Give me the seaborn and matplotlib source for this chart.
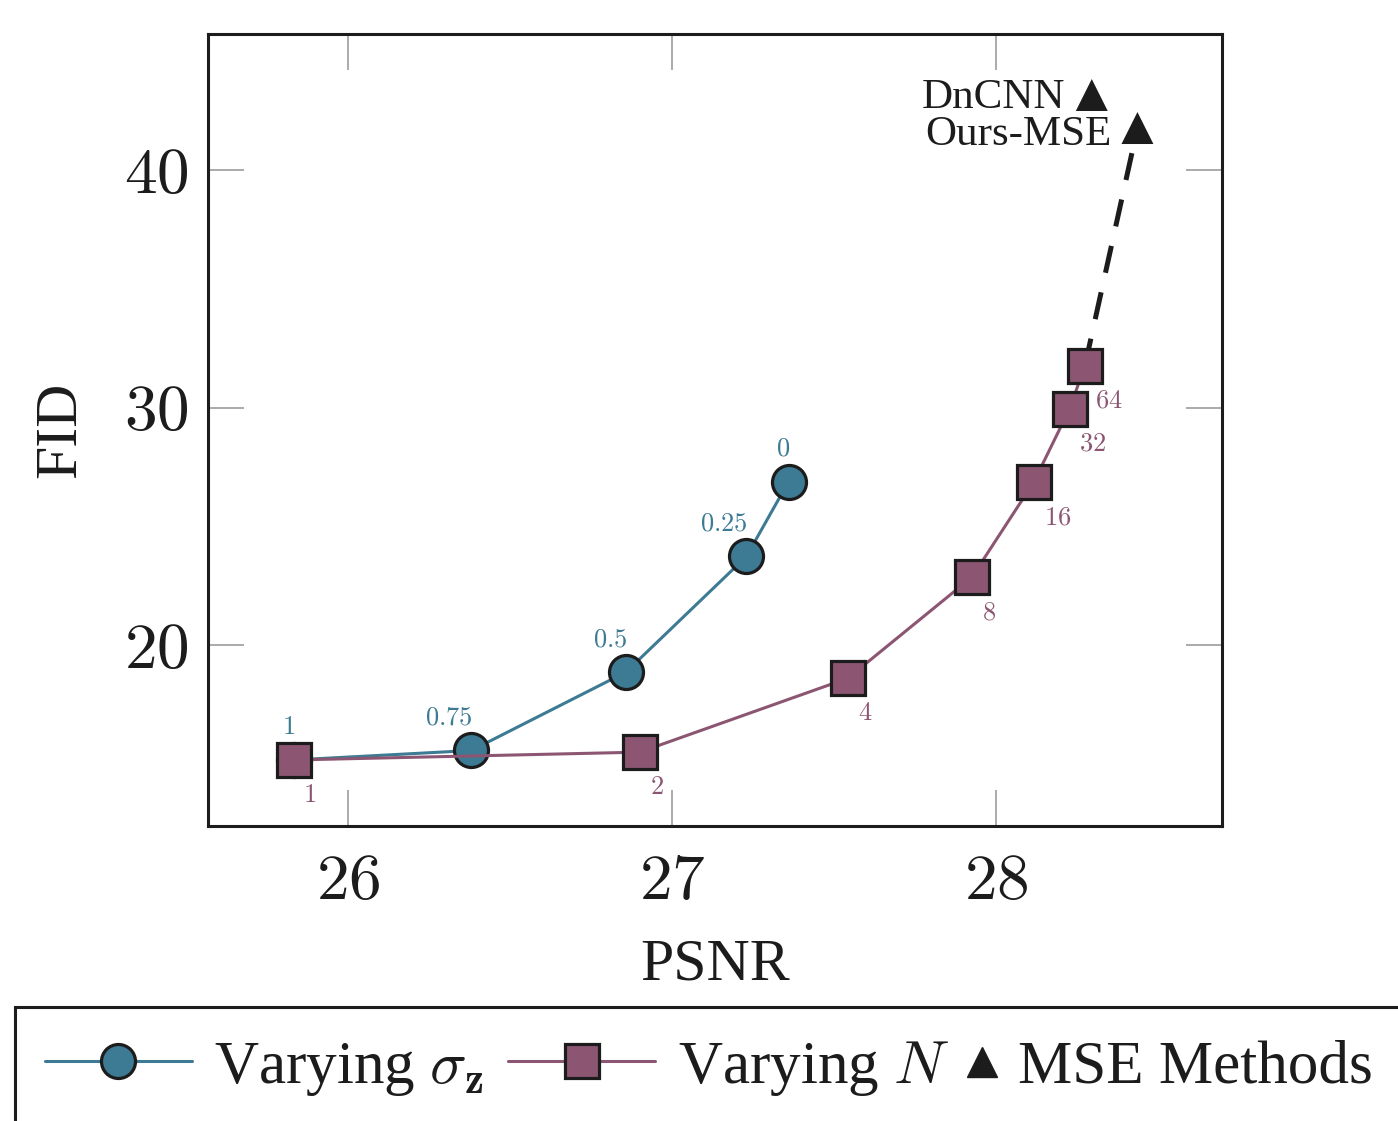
import matplotlib
matplotlib.use("Agg")
import matplotlib.pyplot as plt
import seaborn as sns
import pandas as pd
from matplotlib.lines import Line2D
from matplotlib.patches import Rectangle

# -------------------------------
# Data
# -------------------------------
sigma_psnr = [25.832, 26.381, 26.858, 27.230, 27.360]
sigma_fid = [15.16, 15.56, 18.86, 23.73, 26.88]
sigma_labels = ["1", "0.75", "0.5", "0.25", "0"]

n_psnr = [25.832, 26.901, 27.543, 27.926, 28.117, 28.228, 28.275]
n_fid = [15.16, 15.49, 18.60, 22.86, 26.86, 29.96, 31.77]
n_labels = ["1", "2", "4", "8", "16", "32", "64"]

mse_names = ["DnCNN", "Ours-MSE"]
mse_psnr = [28.296, 28.437]
mse_fid = [43.16, 41.77]

x_ticks = [26, 27, 28]
y_ticks = [20, 30, 40]

legend_labels = [r"Varying $\sigma_{\mathbf{z}}$", r"Varying $N$", "MSE Methods"]

BLUE = "#3d7a93"
PURPLE = "#8c5672"
DARK = "#1c1c1c"

sigma_df = pd.DataFrame({"psnr": sigma_psnr, "fid": sigma_fid})
n_df = pd.DataFrame({"psnr": n_psnr, "fid": n_fid})
mse_df = pd.DataFrame({"psnr": mse_psnr, "fid": mse_fid, "name": mse_names})

# -------------------------------
# Style
# -------------------------------
sns.set_theme(style="white")
plt.rcParams["font.family"] = ["Liberation Serif", "DejaVu Serif"]
plt.rcParams["mathtext.fontset"] = "cm"

W, H = 1398, 1121
fig = plt.figure(figsize=(W / 100, H / 100), dpi=100)
ax = fig.add_axes([208 / W, 1 - 826 / H, (1222 - 208) / W, (826 - 34) / H])

# -------------------------------
# Curves
# -------------------------------
sns.lineplot(data=sigma_df, x="psnr", y="fid", sort=False, estimator=None,
             color=BLUE, linewidth=2.2, marker="o", markersize=24.5,
             markerfacecolor=BLUE, markeredgecolor=DARK, markeredgewidth=2.3,
             ax=ax, zorder=3)
sns.lineplot(data=n_df, x="psnr", y="fid", sort=False, estimator=None,
             color=PURPLE, linewidth=2.2, marker="s", markersize=24.5,
             markerfacecolor=PURPLE, markeredgecolor=DARK, markeredgewidth=2.3,
             ax=ax, zorder=3)

# dashed link from N=64 to Ours-MSE
ax.plot([n_psnr[-1], mse_psnr[1]], [n_fid[-1], mse_fid[1]],
        color=DARK, linewidth=3.6, linestyle=(0, (5.5, 4)), zorder=2)

sns.scatterplot(data=mse_df, x="psnr", y="fid", marker="^", s=23 ** 2,
                color=DARK, edgecolor="none", ax=ax, zorder=4, legend=False)

# -------------------------------
# Point labels
# -------------------------------
for x, y, lab in zip(sigma_psnr, sigma_fid, sigma_labels):
    ax.annotate(f"${lab}$", (x, y), xytext=(1, 15), textcoords="offset points",
                ha="right", va="bottom", fontsize=19, color=BLUE)

for x, y, lab in zip(n_psnr, n_fid, n_labels):
    ax.annotate(f"${lab}$", (x, y), xytext=(7, -18), textcoords="offset points",
                ha="left", va="top", fontsize=19, color=PURPLE)

for x, y, name, dy in zip(mse_psnr, mse_fid, mse_names, [-2, -5]):
    ax.annotate(name, (x, y), xytext=(-19, dy), textcoords="offset points",
                ha="right", va="center", fontsize=31, color=DARK)

# -------------------------------
# Axes
# -------------------------------
ax.set_xlim(25.568, 28.698)
ax.set_ylim(12.38, 45.73)
ax.set_xticks(x_ticks, labels=[f"${t}$" for t in x_ticks])
ax.set_yticks(y_ticks, labels=[f"${t}$" for t in y_ticks])
ax.tick_params(direction="in", length=26, width=1.4, color="#aaaaaa",
               top=True, right=True, bottom=True, left=True,
               labelsize=47, labelcolor=DARK)
ax.tick_params(axis="x", pad=20)
ax.tick_params(axis="y", pad=14)
ax.set_xlabel("PSNR", fontsize=43, color=DARK, labelpad=18)
ax.set_ylabel("FID", fontsize=43, color=DARK, labelpad=26)
for s in ax.spines.values():
    s.set_linewidth(2.2)
    s.set_color(DARK)

# -------------------------------
# Legend (clipped box below the axes)
# -------------------------------
fig.add_artist(Rectangle((15 / W, -0.5), 2, (1 - 1007 / H) + 0.5,
                         transform=fig.transFigure, fill=False,
                         edgecolor=DARK, linewidth=2.2))

line_handles = [
    Line2D([], [], color=BLUE, lw=2.2, marker="o", ms=24.5, mfc=BLUE,
           mec=DARK, mew=2.3),
    Line2D([], [], color=PURPLE, lw=2.2, marker="s", ms=24.5, mfc=PURPLE,
           mec=DARK, mew=2.3),
]
leg1 = fig.legend(line_handles, legend_labels[:2], loc="center left",
                  bbox_to_anchor=(45 / W, 1 - 1068 / H), frameon=False,
                  borderpad=0, borderaxespad=0, ncol=2, fontsize=44,
                  handlelength=2.4, handletextpad=0.37, columnspacing=0.4)
tri_handle = [Line2D([], [], ls="none", marker="^", ms=22, color=DARK)]
leg2 = fig.legend(tri_handle, legend_labels[2:], loc="center left",
                  bbox_to_anchor=(964 / W, 1 - 1068 / H), frameon=False,
                  borderpad=0, borderaxespad=0, fontsize=44,
                  handlelength=0.6, handletextpad=0.28)
for leg in (leg1, leg2):
    for t in leg.get_texts():
        t.set_color(DARK)

fig.savefig("out.png", dpi=100)
